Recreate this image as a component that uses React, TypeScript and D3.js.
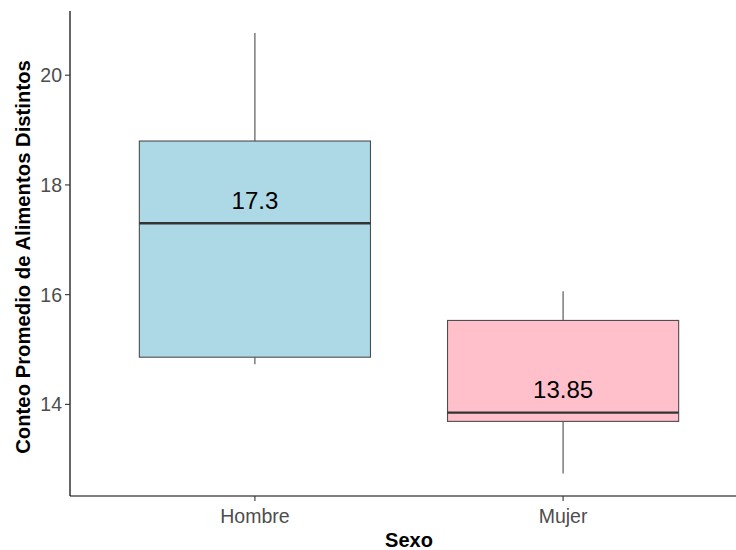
import React from "react";
import * as d3 from "d3";

const categories = ["Hombre", "Mujer"];
const lowerWhisker = [14.73, 12.74];
const q1 = [14.86, 13.69];
const medians = [17.3, 13.85];
const q3 = [18.8, 15.53];
const upperWhisker = [20.77, 16.06];
const fills = ["#ADD8E6", "#FFC0CB"];
const labels = ["17.3", "13.85"];
const yTicks = [14, 16, 18, 20];

const W = 736;
const H = 550;
const left = 70;
const right = 748;
const top = 11;
const bottom = 496;

export default function App() {
  const x = d3.scaleLinear().domain([0.4, 2.6]).range([left, right]);
  const y = d3.scaleLinear().domain([12.33, 21.17]).range([bottom, top]);
  const bw = x(1.75) - x(1);
  const font = "'Liberation Sans', Arial, sans-serif";
  return (
    <svg width={W} height={H} style={{ position: "absolute", left: 0, top: 0, background: "#fff" }} fontFamily={font}>
      {categories.map((c, i) => {
        const cx = x(i + 1);
        return (
          <g key={c}>
            <line x1={cx} x2={cx} y1={y(upperWhisker[i])} y2={y(q3[i])} stroke="#4d4d4d" strokeWidth={1.1} />
            <line x1={cx} x2={cx} y1={y(q1[i])} y2={y(lowerWhisker[i])} stroke="#4d4d4d" strokeWidth={1.1} />
            <rect x={cx - bw / 2} y={y(q3[i])} width={bw} height={y(q1[i]) - y(q3[i])} fill={fills[i]} stroke="#4d4d4d" strokeWidth={1.1} />
            <line x1={cx - bw / 2} x2={cx + bw / 2} y1={y(medians[i])} y2={y(medians[i])} stroke="#333333" strokeWidth={2.4} />
            <text x={cx} y={y(medians[i]) - 23} dy="0.35em" textAnchor="middle" fontSize={24} fill="#000">{labels[i]}</text>
          </g>
        );
      })}
      <line x1={left} x2={left} y1={top} y2={bottom} stroke="#000" strokeWidth={1.2} />
      <line x1={left} x2={W} y1={bottom} y2={bottom} stroke="#000" strokeWidth={1.2} />
      {yTicks.map((t) => (
        <g key={t}>
          <line x1={left - 5} x2={left} y1={y(t)} y2={y(t)} stroke="#333" strokeWidth={1.1} />
          <text x={left - 8} y={y(t)} dy="0.36em" textAnchor="end" fontSize={19.5} fill="#4d4d4d">{t}</text>
        </g>
      ))}
      {categories.map((c, i) => (
        <g key={c}>
          <line x1={x(i + 1)} x2={x(i + 1)} y1={bottom} y2={bottom + 5} stroke="#333" strokeWidth={1.1} />
          <text x={x(i + 1)} y={523} textAnchor="middle" fontSize={19.5} fill="#4d4d4d">{c}</text>
        </g>
      ))}
      <text x={(left + right) / 2} y={547} textAnchor="middle" fontSize={20} fontWeight="bold" fill="#000">Sexo</text>
      <text transform={`translate(30, 257) rotate(-90)`} textAnchor="middle" fontSize={20.3} fontWeight="bold" fill="#000">Conteo Promedio de Alimentos Distintos</text>
    </svg>
  );
}
